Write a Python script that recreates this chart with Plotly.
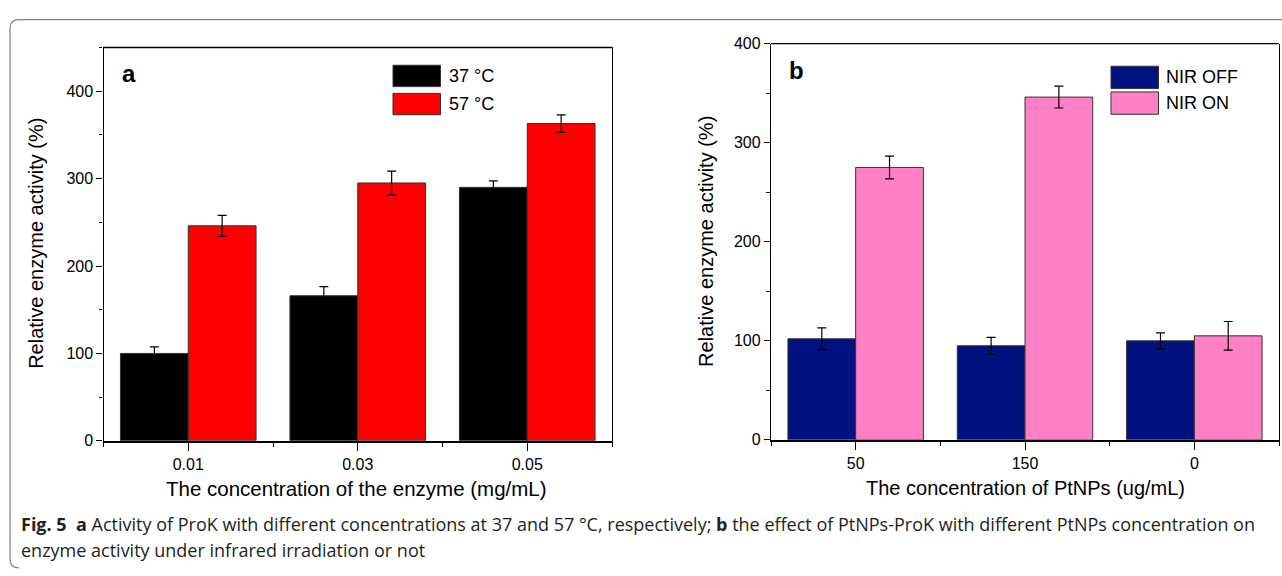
import plotly.graph_objects as go

# ---------------- data ----------------
# Panel a
conc_enzyme = ["0.01", "0.03", "0.05"]
names_a = ["37 °C", "57 °C"]
act_37 = [100, 166, 290]
err_37 = [7.5, 10.5, 7.5]
act_57 = [246, 295, 363]
err_57 = [12, 13.5, 10]

# Panel b
conc_ptnps = ["50", "150", "0"]
names_b = ["NIR OFF", "NIR ON"]
nir_off = [102, 95, 100]
err_off = [11, 8.5, 8]
nir_on = [275, 346, 105]
err_on = [11.5, 11, 14.5]

caption_1 = ("<b>Fig.\u00a05</b>\u00a0\u00a0<b>a</b> Activity of ProK with different concentrations at 37 and 57 °C, "
             "respectively; <b>b</b> the effect of PtNPs-ProK with different PtNPs concentration on")
caption_2 = "enzyme activity under infrared irradiation or not"

# ---------------- layout helpers ----------------
W, H = 1282, 576
def px(x):
    return x / W
def py(y):
    return 1 - y / H

FONT = "Liberation Sans, Arial, sans-serif"
col_a = ["#000000", "#FF0000"]
col_b = ["#001280", "#FF80C4"]

def err(arr):
    return dict(type="data", array=arr, visible=True, color="black", thickness=1.2, width=4.5)

idx_a = list(range(len(conc_enzyme)))
idx_b = list(range(len(conc_ptnps)))

fig = go.Figure()
for vals, errs, name, col in [(act_37, err_37, names_a[0], col_a[0]), (act_57, err_57, names_a[1], col_a[1])]:
    fig.add_trace(go.Bar(x=idx_a, y=vals, error_y=err(errs), name=name,
                         marker=dict(color=col, line=dict(color="#333333", width=1)),
                         xaxis="x", yaxis="y", showlegend=False))
for vals, errs, name, col in [(nir_off, err_off, names_b[0], col_b[0]), (nir_on, err_on, names_b[1], col_b[1])]:
    fig.add_trace(go.Bar(x=idx_b, y=vals, error_y=err(errs), name=name,
                         marker=dict(color=col, line=dict(color="#333333", width=1)),
                         xaxis="x2", yaxis="y2", showlegend=False))

def xax(domain, idx, labels, anchor):
    return dict(domain=domain, anchor=anchor, range=[-0.5, len(idx) - 0.5],
                tickmode="array", tickvals=idx, ticktext=labels,
                ticks="outside", ticklen=8, tickwidth=1.3, tickcolor="black",
                minor=dict(tickmode="array", tickvals=[i - 0.5 for i in range(len(idx) + 1)],
                           ticks="outside", ticklen=4, tickwidth=1.3, tickcolor="black"),
                showline=True, linewidth=2, linecolor="black", showgrid=False, zeroline=False,
                tickfont=dict(family=FONT, size=16, color="black"), fixedrange=True)

def yax(domain, rng, anchor):
    return dict(domain=domain, anchor=anchor, range=rng, tick0=0, dtick=100,
                ticks="outside", ticklen=6, tickwidth=1.3, tickcolor="black",
                minor=dict(dtick=50, ticks="outside", ticklen=3.5, tickwidth=1.3, tickcolor="black"),
                showline=True, linewidth=1.3, linecolor="black", mirror=True,
                showgrid=False, zeroline=False,
                tickfont=dict(family=FONT, size=16, color="black"), fixedrange=True)

fig.update_layout(
    width=W, height=H, margin=dict(l=0, r=0, t=0, b=0),
    paper_bgcolor="white", plot_bgcolor="white",
    barmode="group", bargap=0.2, bargroupgap=0,
    xaxis=xax([px(103.5), px(612)], idx_a, conc_enzyme, "y"),
    yaxis=yax([py(446), py(40.7)], [0, 450], "x"),
    xaxis2=xax([px(771), px(1279)], idx_b, conc_ptnps, "y2"),
    yaxis2=yax([py(445), py(36.7)], [0, 400], "x2"),
    showlegend=False,
)

shapes = []
annotations = []
# top frame lines of each plot
for xr, yr in [("x domain", "y domain"), ("x2 domain", "y2 domain")]:
    shapes.append(dict(type="line", xref=xr, yref=yr, x0=0, x1=1, y0=1, y1=1,
                       line=dict(color="black", width=1.3)))

# legends (drawn boxes + labels)
leg_a = dict(x0=393, x1=440.5, rows=[(59, 81), (88, 110)], tx=447, names=names_a, cols=col_a)
leg_b = dict(x0=1111, x1=1158.5, rows=[(60, 83), (86.5, 109.5)], tx=1164, names=names_b, cols=col_b)
for lg in (leg_a, leg_b):
    for (y0, y1), nm, c in zip(lg["rows"], lg["names"], lg["cols"]):
        shapes.append(dict(type="rect", xref="paper", yref="paper",
                           x0=px(lg["x0"]), x1=px(lg["x1"]), y0=py(y1), y1=py(y0),
                           fillcolor=c, line=dict(color="#333333", width=1)))
        annotations.append(dict(text=nm, xref="paper", yref="paper", x=px(lg["tx"]), y=py((y0 + y1) / 2),
                                xanchor="left", yanchor="middle", showarrow=False,
                                font=dict(family=FONT, size=18, color="black")))

# panel letters
annotations.append(dict(text="<b>a</b>", xref="paper", yref="paper", x=px(120), y=py(67),
                        xanchor="left", yanchor="middle", showarrow=False,
                        font=dict(family=FONT, size=24, color="black")))
annotations.append(dict(text="<b>b</b>", xref="paper", yref="paper", x=px(787), y=py(64),
                        xanchor="left", yanchor="middle", showarrow=False,
                        font=dict(family=FONT, size=24, color="black")))

# axis titles
ytitle = "Relative enzyme activity (%)"
annotations.append(dict(text=ytitle, xref="paper", yref="paper", x=px(36), y=py(243), textangle=-90,
                        xanchor="center", yanchor="middle", showarrow=False,
                        font=dict(family=FONT, size=20, color="black")))
annotations.append(dict(text=ytitle, xref="paper", yref="paper", x=px(706), y=py(241), textangle=-90,
                        xanchor="center", yanchor="middle", showarrow=False,
                        font=dict(family=FONT, size=20, color="black")))
annotations.append(dict(text="The concentration of the enzyme (mg/mL)", xref="paper", yref="paper",
                        x=px(356), y=py(495), xanchor="center", yanchor="middle", showarrow=False,
                        font=dict(family=FONT, size=20.5, color="black")))
annotations.append(dict(text="The concentration of PtNPs (ug/mL)", xref="paper", yref="paper",
                        x=px(1025), y=py(495), xanchor="center", yanchor="middle", showarrow=False,
                        font=dict(family=FONT, size=20, color="black")))

# caption
annotations.append(dict(text=caption_1, xref="paper", yref="paper", x=px(19), y=py(532),
                        xanchor="left", yanchor="middle", showarrow=False,
                        font=dict(family="Open Sans, sans-serif", size=18, color="#231f20")))
annotations.append(dict(text=caption_2, xref="paper", yref="paper", x=px(19), y=py(558),
                        xanchor="left", yanchor="middle", showarrow=False,
                        font=dict(family="Open Sans, sans-serif", size=18, color="#231f20")))

# rounded outer frame (right and bottom sides run off the page)
r = 9
x0, y0, x1, y1 = 10, 12, 1282, 577
path = (f"M {px(x1)},{py(y0)} L {px(x0 + r)},{py(y0)} Q {px(x0)},{py(y0)} {px(x0)},{py(y0 + r)} "
        f"L {px(x0)},{py(y1 - r)} Q {px(x0)},{py(y1)} {px(x0 + r)},{py(y1)}")
shapes.append(dict(type="path", xref="paper", yref="paper", path=path,
                   line=dict(color="#858585", width=1.3)))

fig.update_layout(shapes=shapes, annotations=annotations)
# remove the browser's default page margin so the 1282x576 figure fills the window exactly
fig.write_html("out.html", post_script="document.body.style.margin='0';document.body.style.overflow='hidden';")
